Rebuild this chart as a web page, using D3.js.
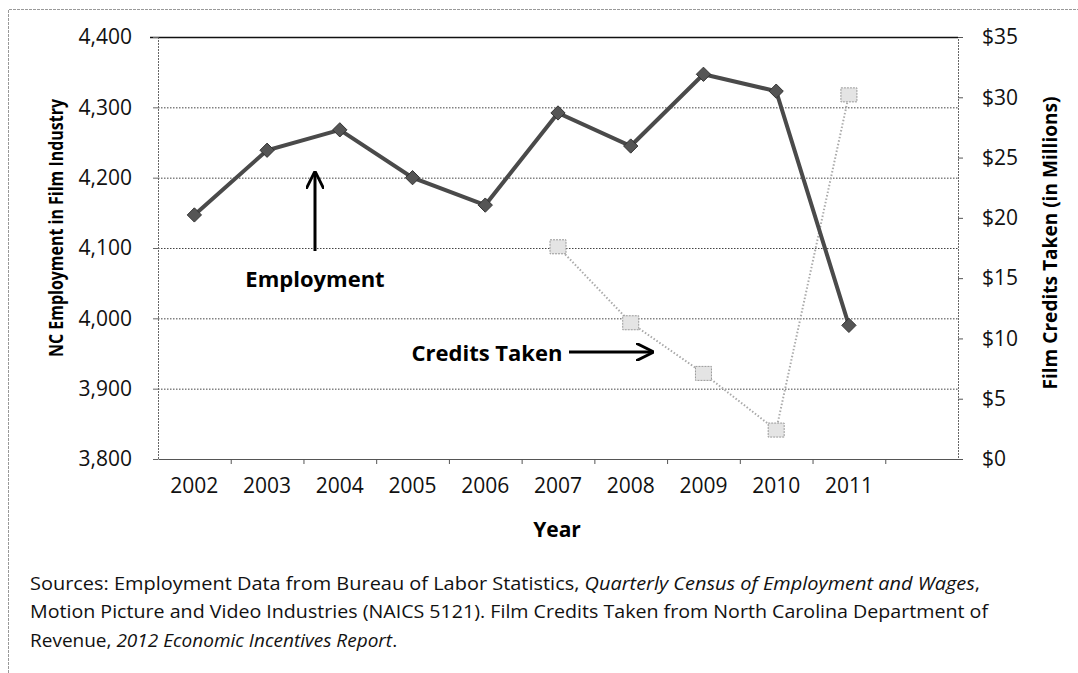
<!DOCTYPE html>
<html>
<head>
<meta charset="utf-8">
<script src="https://cdn.jsdelivr.net/npm/d3@7"></script>
<style>
  body { margin: 0; background: #fff; }
  svg { display: block; font-family: "Open Sans", "Noto Sans", sans-serif; }
</style>
</head>
<body>
<div id="viz"></div>
<script>
const width = 1078, height = 673;
const font = "'Open Sans', 'Noto Sans', sans-serif";

// data
const years = ["2002", "2003", "2004", "2005", "2006", "2007", "2008", "2009", "2010", "2011", ""];
const employment = [4147, 4239, 4268, 4200, 4161, 4292, 4245, 4347, 4323, 3990];
const creditYears = ["2007", "2008", "2009", "2010", "2011"];
const credits = [17.6, 11.3, 7.1, 2.4, 30.2];
const leftTicks = [3800, 3900, 4000, 4100, 4200, 4300, 4400];
const rightTicks = [0, 5, 10, 15, 20, 25, 30, 35];

const plot = { left: 158, right: 958, top: 37, bottom: 459 };

const svg = d3.select("#viz").append("svg")
  .attr("width", width)
  .attr("height", height);

// outer frame (scan border)
svg.append("path")
  .attr("d", `M8.5,${height} L8.5,9.5 L1078,9.5`)
  .attr("fill", "none")
  .attr("stroke", "#999")
  .attr("stroke-width", 1)
  .attr("stroke-dasharray", "3,1");

const x = d3.scaleBand()
  .domain(years)
  .range([plot.left, plot.right]);

const y = d3.scaleLinear()
  .domain([3800, 4400])
  .range([plot.bottom, plot.top]);

const y2 = d3.scaleLinear()
  .domain([0, 35])
  .range([plot.bottom, plot.top]);

// gridlines
svg.append("g")
  .selectAll("line")
  .data(leftTicks.slice(1, -1))
  .enter()
  .append("line")
  .attr("x1", plot.left)
  .attr("x2", plot.right)
  .attr("y1", d => y(d) + 0.5)
  .attr("y2", d => y(d) + 0.5)
  .attr("stroke", "#444")
  .attr("stroke-width", 1)
  .attr("stroke-dasharray", "1.5,1.5");

// top border
svg.append("line")
  .attr("x1", plot.left - 8).attr("x2", plot.right)
  .attr("y1", plot.top + 0.5).attr("y2", plot.top + 0.5)
  .attr("stroke", "#111").attr("stroke-width", 1.5);

// left axis
const leftAxis = svg.append("g")
  .attr("transform", `translate(${plot.left}, 0)`)
  .call(d3.axisLeft(y).tickValues(leftTicks).tickFormat(d3.format(",")).tickSize(5).tickPadding(21));
leftAxis.attr("font-family", font);
leftAxis.select(".domain").attr("stroke", "#666").attr("stroke-dasharray", "2,1");
leftAxis.selectAll(".tick line").attr("stroke", "#666");
leftAxis.selectAll("text").attr("font-size", 21).attr("fill", "#111");

// right axis
const rightAxis = svg.append("g")
  .attr("transform", `translate(${plot.right}, 0)`)
  .call(d3.axisRight(y2).tickValues(rightTicks).tickFormat(d => "$" + d).tickSize(5).tickPadding(19));
rightAxis.attr("font-family", font);
rightAxis.select(".domain").attr("stroke", "#666").attr("stroke-dasharray", "2,1");
rightAxis.selectAll(".tick line").attr("stroke", "#555");
rightAxis.selectAll("text").attr("font-size", 21).attr("fill", "#111");

// bottom axis
const bottomAxis = svg.append("g")
  .attr("transform", `translate(0, ${plot.bottom})`)
  .call(d3.axisBottom(x).tickSize(0).tickPadding(19));
bottomAxis.attr("font-family", font);
bottomAxis.select(".domain").attr("stroke", "#555");
bottomAxis.selectAll("text").attr("font-size", 21).attr("fill", "#111");
// category boundary ticks
svg.append("g")
  .selectAll("line")
  .data(years.slice(1))
  .enter()
  .append("line")
  .attr("x1", d => x(d) + 0.5)
  .attr("x2", d => x(d) + 0.5)
  .attr("y1", plot.bottom)
  .attr("y2", plot.bottom + 5)
  .attr("stroke", "#555");

// credits line (light, dotted)
const creditData = creditYears.map((yr, i) => ({ year: yr, value: credits[i] }));
svg.append("path")
  .datum(creditData)
  .attr("fill", "none")
  .attr("stroke", "#aaa")
  .attr("stroke-width", 2)
  .attr("stroke-dasharray", "1.5,2")
  .attr("d", d3.line()
    .x(d => x(d.year) + x.bandwidth() / 2)
    .y(d => y2(d.value)));

svg.append("g")
  .selectAll("rect")
  .data(creditData)
  .enter()
  .append("rect")
  .attr("x", d => x(d.year) + x.bandwidth() / 2 - 8)
  .attr("y", d => y2(d.value) - 7)
  .attr("width", 16)
  .attr("height", 14)
  .attr("fill", "#e4e4e4")
  .attr("stroke", "#999")
  .attr("stroke-width", 1)
  .attr("stroke-dasharray", "2,1");

// employment line (dark, solid)
const empData = employment.map((v, i) => ({ year: years[i], value: v }));
svg.append("path")
  .datum(empData)
  .attr("fill", "none")
  .attr("stroke", "#4a4a4a")
  .attr("stroke-width", 4)
  .attr("d", d3.line()
    .x(d => x(d.year) + x.bandwidth() / 2)
    .y(d => y(d.value)));

svg.append("g")
  .selectAll("path")
  .data(empData)
  .enter()
  .append("path")
  .attr("transform", d => `translate(${x(d.year) + x.bandwidth() / 2}, ${y(d.value)})`)
  .attr("d", d3.symbol().type(d3.symbolDiamond2).size(130))
  .attr("fill", "#555")
  .attr("stroke", "#333")
  .attr("stroke-width", 1);

// annotations
svg.append("defs").append("marker")
  .attr("id", "arrow")
  .attr("viewBox", "0 0 10 10")
  .attr("refX", 9).attr("refY", 5)
  .attr("markerWidth", 6).attr("markerHeight", 6)
  .attr("orient", "auto")
  .append("path")
  .attr("d", "M0,0 L10,5 L0,10")
  .attr("fill", "none")
  .attr("stroke", "#000")
  .attr("stroke-width", 1.6);

svg.append("line")
  .attr("x1", 315).attr("x2", 315)
  .attr("y1", 251).attr("y2", 173)
  .attr("stroke", "#000").attr("stroke-width", 3)
  .attr("marker-end", "url(#arrow)");

svg.append("text")
  .attr("x", 315).attr("y", 287)
  .attr("text-anchor", "middle")
  .attr("font-size", 22).attr("font-weight", "bold")
  .text("Employment");

svg.append("text")
  .attr("x", 487).attr("y", 361)
  .attr("text-anchor", "middle")
  .attr("font-size", 22).attr("font-weight", "bold")
  .text("Credits Taken");

svg.append("line")
  .attr("x1", 569).attr("x2", 652)
  .attr("y1", 352).attr("y2", 352)
  .attr("stroke", "#000").attr("stroke-width", 3)
  .attr("marker-end", "url(#arrow)");

// axis titles
svg.append("text")
  .attr("transform", "translate(63, 228) rotate(-90)")
  .attr("text-anchor", "middle")
  .attr("font-size", 19).attr("font-weight", "bold")
  .attr("textLength", 258).attr("lengthAdjust", "spacingAndGlyphs")
  .text("NC Employment in Film Industry");

svg.append("text")
  .attr("transform", "translate(1057, 243) rotate(-90)")
  .attr("text-anchor", "middle")
  .attr("font-size", 19).attr("font-weight", "bold")
  .attr("textLength", 293).attr("lengthAdjust", "spacingAndGlyphs")
  .text("Film Credits Taken (in Millions)");

svg.append("text")
  .attr("x", 557).attr("y", 537)
  .attr("text-anchor", "middle")
  .attr("font-size", 21).attr("font-weight", "bold")
  .text("Year");

// source note
const note = svg.append("g").attr("font-size", 19).attr("fill", "#111");
const l1 = note.append("text").attr("x", 30).attr("y", 590)
  .attr("textLength", 950).attr("lengthAdjust", "spacingAndGlyphs");
l1.append("tspan").text("Sources: Employment Data from Bureau of Labor Statistics, ");
l1.append("tspan").attr("font-style", "italic").text("Quarterly Census of Employment and Wages");
l1.append("tspan").text(",");
note.append("text").attr("x", 30).attr("y", 618)
  .attr("textLength", 958).attr("lengthAdjust", "spacingAndGlyphs")
  .text("Motion Picture and Video Industries (NAICS 5121). Film Credits Taken from North Carolina Department of");
const l3 = note.append("text").attr("x", 30).attr("y", 647);
l3.append("tspan").text("Revenue, ");
l3.append("tspan").attr("font-style", "italic").text("2012 Economic Incentives Report");
l3.append("tspan").text(".");
</script>
</body>
</html>
